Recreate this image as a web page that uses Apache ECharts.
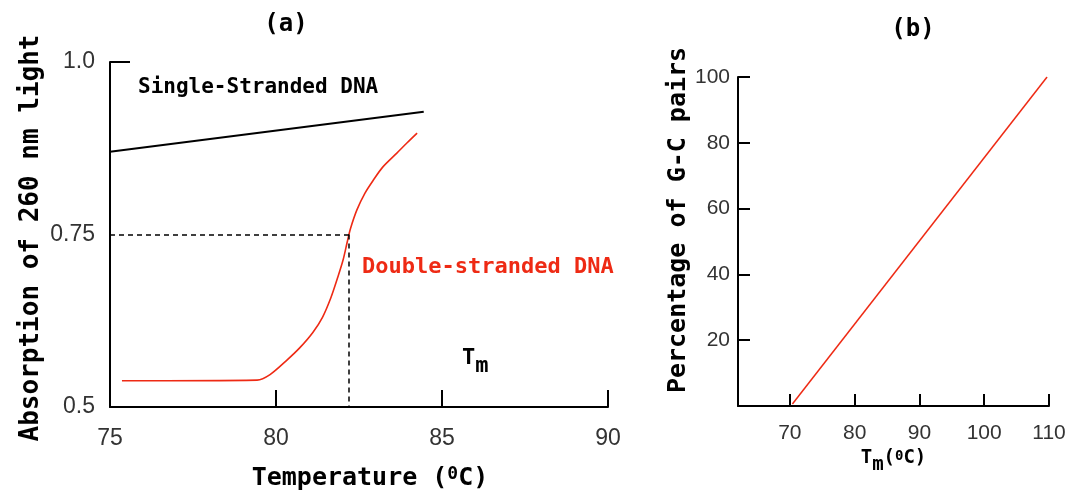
<!DOCTYPE html>
<html>
<head>
<meta charset="utf-8">
<title>DNA melting</title>
<script src="https://cdn.jsdelivr.net/npm/echarts@6/dist/echarts.min.js"></script>
<style>
html, body { margin: 0; padding: 0; background: #fff; }
#chart { width: 1071px; height: 493px; }
</style>
</head>
<body>
<div id="chart"></div>
<script>
// (a) absorption vs temperature
var singleStranded = [[75.0, 0.870], [84.45, 0.928]];
var doubleStranded = [
    [75.36, 0.538], [79.43, 0.539], [79.82, 0.547], [80.33, 0.568], [80.72, 0.586],
    [81.11, 0.608], [81.40, 0.630], [81.65, 0.658], [81.86, 0.688], [82.02, 0.713],
    [82.14, 0.738], [82.24, 0.758], [82.44, 0.786], [82.68, 0.810], [82.92, 0.828],
    [83.22, 0.848], [83.64, 0.868], [83.95, 0.883], [84.25, 0.897]
];
var tm = 82.2;
var tmAbsorption = 0.75;
var absorptionTicks = [0.5, 0.75, 1.0];
var tempTicks = [75, 80, 85, 90];

// (b) G-C content vs Tm
var gcLine = [[70.4, 0.6], [109.7, 100]];
var gcTempTicks = [70, 80, 90, 100, 110];
var gcPercentTicks = [20, 40, 60, 80, 100];

var RED = '#ee2a14';
var BOLD = '"DejaVu Sans Mono", monospace';
var THIN = '"Liberation Sans", Arial, sans-serif';

var dom = document.getElementById('chart');
var myChart = echarts.init(dom);

function axisLineStyle() {
    return { show: true, onZero: false, lineStyle: { color: '#000', width: 2 } };
}

function label(text, x, y, size, opts) {
    opts = opts || {};
    return {
        type: 'text',
        x: x,
        y: y,
        rotation: opts.rotation || 0,
        style: {
            text: text,
            x: 0,
            y: 0,
            font: 'bold ' + size + 'px ' + BOLD,
            fill: opts.color || '#000',
            textAlign: opts.align || 'center',
            textVerticalAlign: 'middle',
            rich: opts.rich
        }
    };
}

// T with subscript m, small raised 0 for degrees
function subRich(size, shift) {
    var base = { fontSize: size, fontWeight: 'bold', fontFamily: BOLD, fill: '#000', color: '#000' };
    return {
        t: Object.assign({}, base, { lineHeight: size + shift, verticalAlign: 'top' }),
        s: Object.assign({}, base, { verticalAlign: 'bottom' }),
        p: Object.assign({}, base, { verticalAlign: 'top' }),
        q: Object.assign({}, base, { fontSize: Math.round(size * 0.72), verticalAlign: 'top' })
    };
}

var option = {
    animation: false,
    backgroundColor: '#fff',
    grid: [
        { left: 110, top: 62, width: 498, height: 345 },
        { left: 738, top: 77, width: 311, height: 329 }
    ],
    xAxis: [{
        gridIndex: 0,
        type: 'value',
        min: 75,
        max: 90,
        interval: 5,
        axisLine: axisLineStyle(),
        axisTick: { show: true, inside: true, length: 17, customValues: [80, 85, 90], lineStyle: { color: '#000', width: 2 } },
        axisLabel: { customValues: tempTicks, margin: 20, fontSize: 23, fontFamily: THIN, color: '#333' },
        splitLine: { show: false }
    }, {
        gridIndex: 1,
        type: 'value',
        min: 62,
        max: 110,
        axisLine: axisLineStyle(),
        axisTick: { show: true, inside: true, length: 12, customValues: gcTempTicks, lineStyle: { color: '#000', width: 2 } },
        axisLabel: { customValues: gcTempTicks, margin: 17, fontSize: 21, fontFamily: THIN, color: '#333' },
        splitLine: { show: false },
        name: '{t|T}{s|m}{p|(}{q|0}{p|C)}',
        nameLocation: 'middle',
        nameGap: 42,
        nameTextStyle: { rich: subRich(19, 7) }
    }],
    yAxis: [{
        gridIndex: 0,
        type: 'value',
        min: 0.5,
        max: 1.0,
        interval: 0.25,
        axisLine: axisLineStyle(),
        axisTick: { show: true, inside: true, length: 20, customValues: [1.0], lineStyle: { color: '#000', width: 2 } },
        axisLabel: {
            customValues: absorptionTicks,
            margin: 15,
            fontSize: 23,
            fontFamily: THIN,
            color: '#333',
            formatter: function (v) { return v === 1 ? '1.0' : String(v); }
        },
        splitLine: { show: false }
    }, {
        gridIndex: 1,
        type: 'value',
        min: 0,
        max: 100,
        interval: 20,
        axisLine: axisLineStyle(),
        axisTick: { show: true, inside: true, length: 12, customValues: gcPercentTicks, lineStyle: { color: '#000', width: 2 } },
        axisLabel: { customValues: gcPercentTicks, margin: 8, fontSize: 21, fontFamily: THIN, color: '#333' },
        splitLine: { show: false }
    }],
    series: [{
        name: 'Single-Stranded DNA',
        type: 'line',
        xAxisIndex: 0,
        yAxisIndex: 0,
        data: singleStranded,
        symbol: 'none',
        lineStyle: { color: '#000', width: 2 }
    }, {
        name: 'Double-stranded DNA',
        type: 'line',
        xAxisIndex: 0,
        yAxisIndex: 0,
        data: doubleStranded,
        symbol: 'none',
        smooth: 0.3,
        lineStyle: { color: RED, width: 1.6 },
        markLine: {
            silent: true,
            symbol: ['none', 'none'],
            label: { show: false },
            lineStyle: { color: '#000', type: [5, 4], width: 1.5 },
            data: [
                [{ coord: [75, tmAbsorption] }, { coord: [tm, tmAbsorption] }],
                [{ coord: [tm, tmAbsorption] }, { coord: [tm, 0.5] }]
            ]
        }
    }, {
        name: 'G-C',
        type: 'line',
        xAxisIndex: 1,
        yAxisIndex: 1,
        data: gcLine,
        symbol: 'none',
        lineStyle: { color: RED, width: 1.5 }
    }],
    graphic: [
        label('(a)', 286, 25, 24),
        label('(b)', 913, 30, 24),
        label('Single-Stranded DNA', 138, 88, 21, { align: 'left' }),
        label('Double-stranded DNA', 362, 267, 22, { align: 'left', color: RED }),
        label('{t|T}{s|m}', 462, 362, 22, { align: 'left', rich: subRich(22, 8) }),
        label('Absorption of 260 nm light', 31, 238, 26, { rotation: Math.PI / 2 }),
        label('Percentage of G-C pairs', 678, 220, 25, { rotation: Math.PI / 2 }),
        label('Temperature ({q|0}C)', 370, 478, 25, { rich: subRich(25, 8) })
    ]
};

if (option && typeof option === 'object') {
    myChart.setOption(option, true);
}

window.onresize = function () {
    myChart.resize();
};
</script>
</body>
</html>
